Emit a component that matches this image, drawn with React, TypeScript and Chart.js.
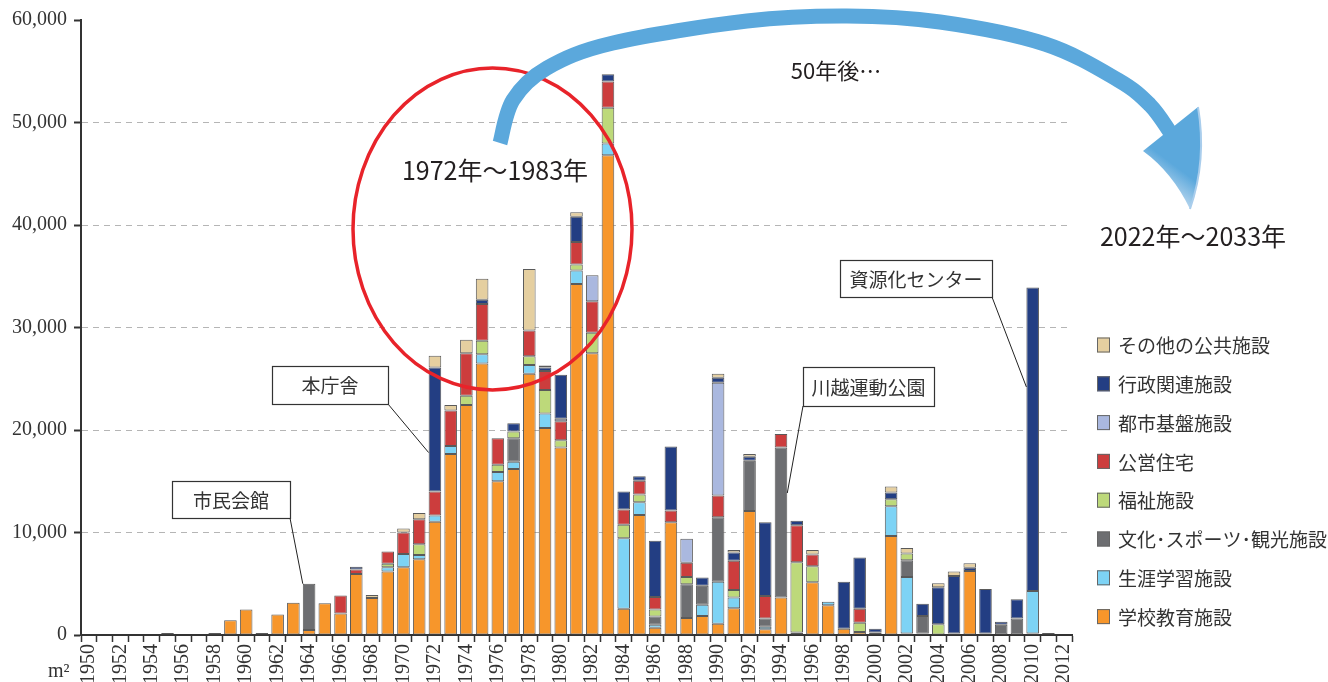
import React, { useEffect, useRef } from 'react';
import { Chart, registerables } from 'chart.js';

Chart.register(...registerables);

const years = [
  '1950','1951','1952','1953','1954','1955','1956','1957','1958','1959',
  '1960','1961','1962','1963','1964','1965','1966','1967','1968','1969',
  '1970','1971','1972','1973','1974','1975','1976','1977','1978','1979',
  '1980','1981','1982','1983','1984','1985','1986','1987','1988','1989',
  '1990','1991','1992','1993','1994','1995','1996','1997','1998','1999',
  '2000','2001','2002','2003','2004','2005','2006','2007','2008','2009',
  '2010','2011','2012',
];

// 学校教育施設
const school = [
  0, 0, 0, 0, 0, 200, 0, 0, 200, 1450,
  2500, 200, 2000, 3150, 500, 3100, 2100, 5950, 3600, 6200,
  6600, 7400, 11050, 17650, 22450, 26500, 15000, 16200, 25500, 20200,
  18300, 34250, 27500, 46800, 2550, 11700, 700, 11000, 1650, 1850,
  1100, 2600, 12100, 550, 3650, 250, 5150, 2900, 600, 300,
  250, 9650, 150, 150, 0, 150, 6250, 150, 0, 0,
  150, 200, 0,
];
// 生涯学習施設
const lifelong = [
  0, 0, 0, 0, 0, 0, 0, 0, 0, 0,
  0, 0, 0, 0, 0, 0, 0, 0, 0, 400,
  1300, 400, 600, 800, 0, 900, 900, 700, 850, 1400,
  0, 1300, 0, 1150, 6900, 1250, 300, 0, 0, 1100,
  4100, 1050, 0, 250, 0, 0, 0, 350, 0, 0,
  0, 2900, 5500, 0, 0, 0, 0, 0, 0, 0,
  4150, 0, 0,
];
// 文化・スポーツ・観光施設
const culture = [
  0, 0, 0, 0, 0, 0, 0, 0, 0, 0,
  0, 0, 0, 0, 4500, 0, 0, 0, 0, 0,
  0, 0, 0, 0, 0, 0, 0, 2300, 0, 0,
  0, 0, 0, 0, 0, 0, 800, 0, 3300, 1850,
  6300, 0, 4900, 800, 14650, 0, 0, 0, 0, 0,
  0, 0, 1650, 1700, 0, 0, 0, 0, 1000, 1600,
  0, 0, 0,
];
// 福祉施設
const welfare = [
  0, 0, 0, 0, 0, 0, 0, 0, 0, 0,
  0, 0, 0, 0, 0, 0, 0, 0, 0, 350,
  0, 1050, 0, 0, 900, 1300, 700, 650, 850, 2300,
  700, 600, 2000, 3500, 1300, 750, 700, 0, 700, 0,
  0, 750, 0, 0, 0, 6850, 1550, 0, 0, 900,
  0, 700, 650, 0, 1050, 0, 0, 0, 0, 0,
  0, 0, 0,
];
// 公営住宅
const housing = [
  0, 0, 0, 0, 0, 0, 0, 0, 0, 0,
  0, 0, 0, 0, 0, 0, 1750, 450, 0, 1200,
  2100, 2450, 2350, 3450, 4150, 3600, 2600, 0, 2500, 1850,
  1850, 2200, 3050, 2550, 1500, 1350, 1200, 1150, 1400, 0,
  2100, 2850, 0, 2200, 1300, 3600, 1150, 0, 0, 1350,
  0, 0, 0, 0, 0, 0, 0, 0, 0, 0,
  0, 0, 0,
];
// 都市基盤施設
const infra = [
  0, 0, 0, 0, 0, 0, 0, 0, 0, 0,
  0, 0, 0, 0, 0, 0, 0, 0, 0, 0,
  0, 0, 0, 0, 0, 0, 0, 0, 0, 0,
  250, 0, 2550, 0, 0, 0, 0, 0, 2350, 0,
  11000, 0, 0, 0, 0, 0, 0, 0, 0, 0,
  0, 0, 0, 0, 0, 0, 0, 0, 0, 0,
  0, 0, 0,
];
// 行政関連施設
const admin = [
  0, 0, 0, 0, 0, 0, 0, 0, 0, 0,
  0, 0, 0, 0, 0, 0, 0, 250, 0, 0,
  0, 0, 12100, 0, 0, 400, 0, 800, 0, 350,
  4300, 2450, 0, 700, 1750, 450, 5500, 6250, 0, 800,
  500, 800, 400, 7200, 0, 450, 0, 0, 4600, 5000,
  350, 650, 0, 1200, 3600, 5600, 300, 4350, 300, 1900,
  29600, 0, 0,
];
// その他の公共施設
const other = [
  0, 0, 0, 0, 0, 0, 0, 0, 0, 0,
  0, 0, 0, 0, 0, 0, 0, 0, 300, 0,
  400, 600, 1150, 550, 1300, 2050, 0, 0, 6000, 200,
  0, 450, 0, 0, 0, 0, 0, 0, 0, 0,
  400, 250, 250, 0, 0, 0, 450, 0, 0, 0,
  0, 600, 550, 0, 400, 450, 450, 0, 0, 0,
  0, 0, 0,
];

const series = [school, lifelong, culture, welfare, housing, infra, admin, other];
const seriesNames = [
  '学校教育施設',
  '生涯学習施設',
  '文化･スポーツ･観光施設',
  '福祉施設',
  '公営住宅',
  '都市基盤施設',
  '行政関連施設',
  'その他の公共施設',
];
const colors = ['#F7962B', '#7DD3F5', '#6D6E71', '#BDD97A', '#CC3D3D', '#AAB8DF', '#233E83', '#E5CFA0'];

const yTicks = [0, 10000, 20000, 30000, 40000, 50000, 60000];

const callouts = [
  { text: '市民会館', box: [172, 481, 118, 37], from: 'br', year: '1964', value: 5000, edge: -1 },
  { text: '本庁舎', box: [272, 366, 116, 38], from: 'br', year: '1972', value: 17800, edge: -1 },
  { text: '川越運動公園', box: [803, 367, 131, 39], from: 'bl', year: '1994', value: 13850, edge: 1 },
  { text: '資源化センター', box: [840, 260, 152, 37], from: 'br', year: '2010', value: 24200, edge: -1 },
];

const JP = '"Noto Sans CJK JP", "Noto Sans", sans-serif';
const SERIF = '"Liberation Serif", "DejaVu Serif", serif';

function spline(ctx: CanvasRenderingContext2D, pts: number[][]) {
  ctx.moveTo(pts[0][0], pts[0][1]);
  for (let i = 0; i < pts.length - 1; i++) {
    const p0 = pts[i - 1] || pts[i];
    const p1 = pts[i];
    const p2 = pts[i + 1];
    const p3 = pts[i + 2] || p2;
    ctx.bezierCurveTo(
      p1[0] + (p2[0] - p0[0]) / 6, p1[1] + (p2[1] - p0[1]) / 6,
      p2[0] - (p3[0] - p1[0]) / 6, p2[1] - (p3[1] - p1[1]) / 6,
      p2[0], p2[1]
    );
  }
}

const annotationPlugin = {
  id: 'annotations',
  afterDraw(chart: any) {
    const ctx: CanvasRenderingContext2D = chart.ctx;
    const xs = chart.scales.x;
    const ys = chart.scales.y;
    const catW = xs.width / years.length;
    ctx.save();

    // unit
    ctx.fillStyle = '#333';
    ctx.font = `20px ${SERIF}`;
    ctx.textAlign = 'left';
    ctx.textBaseline = 'alphabetic';
    ctx.fillText('m²', 48, 677);

    // callouts
    callouts.forEach((c) => {
      const [bx, by, bw, bh] = c.box;
      const idx = years.indexOf(c.year);
      const tx = xs.getPixelForValue(idx) + c.edge * catW * 0.4;
      const ty = ys.getPixelForValue(c.value);
      const sx = c.from === 'br' ? bx + bw : bx;
      const sy = by + bh;
      ctx.beginPath();
      ctx.moveTo(sx, sy);
      ctx.lineTo(tx, ty);
      ctx.strokeStyle = '#222';
      ctx.lineWidth = 1;
      ctx.stroke();
      ctx.fillStyle = '#fff';
      ctx.fillRect(bx, by, bw, bh);
      ctx.strokeStyle = '#333';
      ctx.lineWidth = 1.2;
      ctx.strokeRect(bx + 0.5, by + 0.5, bw, bh);
      ctx.fillStyle = '#333';
      ctx.font = `19px ${JP}`;
      ctx.textAlign = 'center';
      ctx.textBaseline = 'middle';
      ctx.fillText(c.text, bx + bw / 2, by + bh / 2 + 1);
    });

    // red ellipse
    ctx.beginPath();
    ctx.ellipse(492.5, 229, 139.5, 161, 0, 0, Math.PI * 2);
    ctx.strokeStyle = '#E8232A';
    ctx.lineWidth = 3.5;
    ctx.stroke();

    // blue arrow body
    ctx.beginPath();
    spline(ctx, [
      [500, 143], [513, 100], [547, 68], [613, 43], [747, 21], [847, 16],
      [940, 22], [1045, 44], [1118, 80], [1150, 105], [1170, 132],
    ]);
    ctx.strokeStyle = '#5BA8DC';
    ctx.lineWidth = 15;
    ctx.lineCap = 'butt';
    ctx.stroke();

    // arrow head
    const g = ctx.createLinearGradient(1160, 192, 1178, 168);
    g.addColorStop(0, '#C4DCF0');
    g.addColorStop(1, '#5BA8DC');
    ctx.beginPath();
    ctx.moveTo(1143, 151);
    ctx.lineTo(1198, 107);
    ctx.quadraticCurveTo(1207, 160, 1190, 209);
    ctx.quadraticCurveTo(1172, 172, 1143, 151);
    ctx.closePath();
    ctx.fillStyle = g;
    ctx.fill();
    ctx.beginPath();
    ctx.moveTo(1198, 107);
    ctx.quadraticCurveTo(1207, 160, 1190, 209);
    ctx.strokeStyle = '#A9CDEC';
    ctx.lineWidth = 2;
    ctx.stroke();

    // texts
    ctx.fillStyle = '#231F20';
    ctx.textAlign = 'center';
    ctx.textBaseline = 'middle';
    ctx.font = `25px ${JP}`;
    ctx.fillText('1972年～1983年', 495, 170);
    ctx.fillText('2022年～2033年', 1193, 236);
    ctx.font = `22px ${JP}`;
    ctx.fillText('50年後…', 836, 71);

    // legend
    ctx.textAlign = 'left';
    ctx.textBaseline = 'middle';
    ctx.font = `19px ${JP}`;
    for (let k = 0; k < series.length; k++) {
      const i = series.length - 1 - k;
      const cy = 345 + k * 38.8;
      ctx.fillStyle = colors[i];
      ctx.fillRect(1097, cy - 7.5, 13, 15);
      ctx.strokeStyle = '#666';
      ctx.lineWidth = 1;
      ctx.strokeRect(1097.5, cy - 7, 12, 14);
      ctx.fillStyle = '#333';
      ctx.fillText(seriesNames[i], 1118, cy + 1);
    }
    ctx.restore();
  },
};

export default function App() {
  const ref = useRef<HTMLCanvasElement | null>(null);
  useEffect(() => {
    if (!ref.current) return;
    const chart = new Chart(ref.current, {
      type: 'bar',
      data: {
        labels: years,
        datasets: series.map((s, i) => ({
          label: seriesNames[i],
          data: s.map((v) => (v === 0 ? null : v)),
          backgroundColor: colors[i],
          borderColor: '#5a5a5a',
          borderWidth: 1,
          borderSkipped: false,
          barPercentage: 0.8,
          categoryPercentage: 1,
        })),
      },
      options: {
        responsive: false,
        animation: false,
        layout: { padding: { top: 20, right: 256, left: 0, bottom: 0 } },
        plugins: { legend: { display: false }, tooltip: { enabled: false } },
        scales: {
          x: {
            stacked: true,
            offset: true,
            grid: {
              display: true,
              offset: true,
              drawOnChartArea: false,
              drawTicks: true,
              tickLength: 7,
              tickColor: '#333',
              tickWidth: 1.5,
            },
            border: { display: true, color: '#333', width: 2 },
            ticks: {
              autoSkip: false,
              minRotation: 90,
              maxRotation: 90,
              padding: 2,
              color: '#333',
              font: { family: SERIF, size: 20 },
              callback: (_v: any, i: number) => (Number(years[i]) % 2 === 0 ? years[i] : ''),
            },
            afterFit: (s: any) => {
              s.height = 47;
            },
          },
          y: {
            stacked: true,
            min: yTicks[0],
            max: yTicks[yTicks.length - 1],
            afterBuildTicks: (s: any) => {
              s.ticks = yTicks.map((v) => ({ value: v }));
            },
            ticks: {
              padding: 7,
              color: '#333',
              font: { family: SERIF, size: 20 },
              callback: (v: any) => Number(v).toLocaleString('en-US'),
            },
            grid: {
              color: (c: any) =>
                c.tick && (c.tick.value === 0 || c.tick.value === 60000) ? 'rgba(0,0,0,0)' : '#b5b5b5',
              lineWidth: 1,
              drawTicks: true,
              tickLength: 7,
              tickColor: '#333',
              tickWidth: 2,
            },
            border: { display: true, color: '#333', width: 2, dash: [6, 5] },
            afterFit: (s: any) => {
              s.width = 81;
            },
          },
        },
      },
      plugins: [annotationPlugin],
    });
    return () => chart.destroy();
  }, []);
  return (
    <div style={{ position: 'absolute', left: 0, top: 0, width: 1328, height: 682, background: '#fff' }}>
      <canvas ref={ref} width={1328} height={682} style={{ display: 'block' }} />
    </div>
  );
}
